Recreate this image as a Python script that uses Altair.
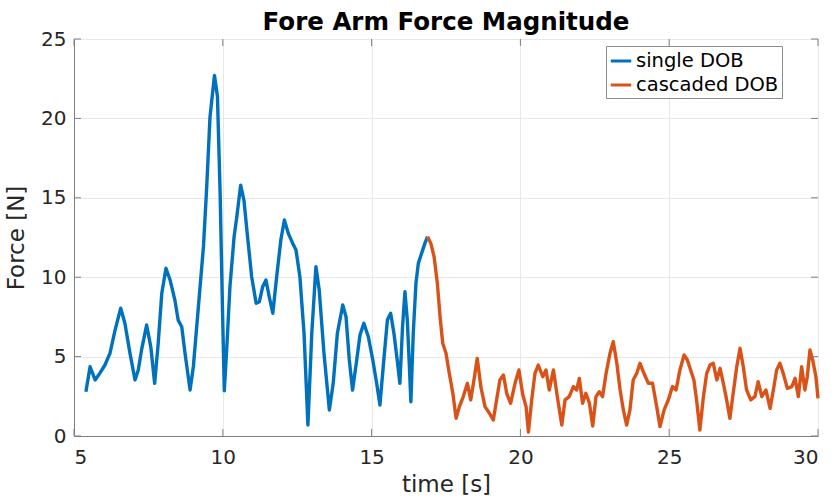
import altair as alt
import pandas as pd

# Force magnitude samples (time in s, force in N)
t_single = [5.40, 5.54, 5.71, 5.87, 6.04, 6.21, 6.38, 6.57, 6.71, 6.88,
            7.05, 7.16, 7.27, 7.44, 7.58, 7.71, 7.83, 7.95, 8.09, 8.23,
            8.39, 8.50, 8.62, 8.73, 8.90, 9.01, 9.18, 9.35, 9.46, 9.57,
            9.72, 9.82, 9.91, 9.99, 10.05, 10.13, 10.24, 10.38, 10.47, 10.60,
            10.71, 10.82, 10.97, 11.12, 11.23, 11.34, 11.45, 11.56, 11.68, 11.81,
            11.95, 12.07, 12.20, 12.35, 12.46, 12.59, 12.73, 12.86, 12.99, 13.13,
            13.24, 13.40, 13.58, 13.71, 13.85, 14.03, 14.14, 14.25, 14.36, 14.50,
            14.61, 14.74, 14.89, 15.04, 15.17, 15.28, 15.39, 15.53, 15.64, 15.75,
            15.86, 15.95, 16.04, 16.12, 16.20, 16.27, 16.32, 16.40, 16.49, 16.57,
            16.68, 16.79, 16.88]
f_single = [2.79, 4.36, 3.53, 3.96, 4.47, 5.22, 6.67, 8.05, 7.10, 5.22,
            3.53, 4.16, 5.42, 6.99, 5.62, 3.32, 5.85, 8.99, 10.56, 9.82,
            8.56, 7.30, 6.88, 5.22, 2.90, 4.36, 8.14, 11.92, 15.70, 20.10,
            22.70, 21.40, 15.30, 7.93, 2.85, 5.42, 9.40, 12.55, 13.80, 15.80,
            14.86, 12.76, 10.03, 8.36, 8.46, 9.40, 9.82, 8.77, 7.73, 10.03,
            12.34, 13.60, 12.76, 12.13, 11.71, 10.03, 6.47, 0.69, 6.47, 10.66,
            9.19, 5.21, 1.64, 3.32, 6.47, 8.25, 7.51, 4.79, 2.90, 4.79,
            6.36, 7.10, 6.25, 4.79, 3.32, 1.95, 4.36, 7.30, 7.73, 6.47,
            4.79, 3.32, 6.88, 9.09, 7.30, 4.36, 2.16, 6.47, 9.61, 10.87,
            11.50, 12.13, 12.55]

t_casc = [16.88, 16.99, 17.10, 17.21, 17.30, 17.39, 17.50, 17.61, 17.73, 17.84,
          17.95, 18.08, 18.22, 18.33, 18.44, 18.55, 18.67, 18.81, 18.96, 19.09,
          19.20, 19.31, 19.43, 19.54, 19.67, 19.82, 19.95, 20.08, 20.19, 20.27,
          20.38, 20.49, 20.60, 20.75, 20.86, 20.97, 21.11, 21.24, 21.39, 21.50,
          21.64, 21.78, 21.89, 21.98, 22.09, 22.20, 22.32, 22.43, 22.54, 22.65,
          22.76, 22.88, 23.01, 23.12, 23.24, 23.35, 23.46, 23.57, 23.68, 23.79,
          23.91, 24.02, 24.15, 24.30, 24.44, 24.58, 24.69, 24.83, 24.97, 25.11,
          25.23, 25.36, 25.50, 25.61, 25.72, 25.83, 25.92, 26.03, 26.15, 26.26,
          26.37, 26.48, 26.60, 26.71, 26.82, 26.93, 27.04, 27.15, 27.27, 27.38,
          27.49, 27.60, 27.74, 27.88, 27.99, 28.11, 28.25, 28.39, 28.50, 28.61,
          28.72, 28.83, 28.97, 29.12, 29.23, 29.34, 29.45, 29.56, 29.64, 29.73,
          29.82, 29.93, 30.00]
f_casc = [12.55, 12.13, 11.29, 9.61, 7.51, 5.84, 5.21, 3.95, 2.69, 1.11,
          1.85, 2.48, 3.32, 2.27, 3.53, 4.89, 3.11, 1.85, 1.43, 1.01,
          2.27, 3.53, 3.84, 2.69, 2.06, 3.32, 4.16, 2.60, 1.85, 0.25,
          2.27, 3.95, 4.47, 3.73, 4.16, 2.90, 4.16, 2.48, 0.69, 2.27,
          2.48, 3.11, 2.90, 3.63, 2.06, 2.69, 2.06, 0.63, 2.48, 2.79,
          2.48, 3.95, 5.21, 5.94, 4.58, 2.90, 1.64, 0.69, 1.64, 3.53,
          3.95, 4.58, 3.95, 3.32, 3.32, 1.85, 0.59, 1.64, 2.27, 3.11,
          2.90, 4.16, 5.10, 4.79, 4.16, 3.53, 2.27, 0.38, 2.48, 3.95,
          4.47, 4.58, 3.53, 4.26, 3.32, 2.27, 1.11, 2.69, 4.36, 5.52,
          4.36, 2.90, 2.27, 2.48, 3.42, 2.48, 2.90, 1.74, 2.90, 4.16,
          4.58, 3.95, 3.00, 3.11, 3.63, 2.48, 4.36, 2.90, 3.73, 5.42,
          4.79, 3.73, 2.37]

series_names = ["single DOB", "cascaded DOB"]
series_colors = ["#0072BD", "#D95319"]
x_ticks = [5, 10, 15, 20, 25, 30]
y_ticks = [0, 5, 10, 15, 20, 25]

W, H = 744, 397
FONT = "DejaVu Sans"
INK = "#262626"
FRAME = "#808080"

df = pd.concat([
    pd.DataFrame({"t": t_single, "f": f_single, "series": series_names[0]}),
    pd.DataFrame({"t": t_casc, "f": f_casc, "series": series_names[1]}),
], ignore_index=True)

x_scale = alt.Scale(domain=[5, 30], nice=False, zero=False)
y_scale = alt.Scale(domain=[0, 25], nice=False)

lines = alt.Chart(df).mark_line(strokeWidth=3.4, strokeJoin="round").encode(
    x=alt.X("t:Q", scale=x_scale, title="time [s]",
            axis=alt.Axis(values=x_ticks, format="d")),
    y=alt.Y("f:Q", scale=y_scale, title="Force [N]",
            axis=alt.Axis(values=y_ticks, format="d")),
    color=alt.Color("series:N",
                    scale=alt.Scale(domain=series_names, range=series_colors),
                    legend=alt.Legend(title=None, orient="none", legendX=532, legendY=7,
                                      fillColor="white", strokeColor="#8c8c8c",
                                      padding=3, rowPadding=2,
                                      symbolType="stroke", symbolSize=420,
                                      symbolStrokeWidth=3, symbolOffset=0,
                                      labelFontSize=19.5, labelFont=FONT,
                                      labelColor="#000000", labelOffset=3)),
    order="t:Q",
)

# Inward-facing tick marks on all four sides of the box
xt = pd.DataFrame({"v": x_ticks})
yt = pd.DataFrame({"v": y_ticks})
tick_style = dict(color=FRAME, strokeWidth=1)
xb = alt.Chart(xt).mark_rule(**tick_style).encode(
    x=alt.X("v:Q", scale=x_scale), y=alt.value(H), y2=alt.value(H - 7))
xtop = alt.Chart(xt).mark_rule(**tick_style).encode(
    x=alt.X("v:Q", scale=x_scale), y=alt.value(0), y2=alt.value(7))
yl = alt.Chart(yt).mark_rule(**tick_style).encode(
    y=alt.Y("v:Q", scale=y_scale), x=alt.value(0), x2=alt.value(7))
yr = alt.Chart(yt).mark_rule(**tick_style).encode(
    y=alt.Y("v:Q", scale=y_scale), x=alt.value(W), x2=alt.value(W - 7))

chart = alt.layer(lines, xb, xtop, yl, yr).properties(
    width=W, height=H,
    background="white",
    title=alt.TitleParams("Fore Arm Force Magnitude", font=FONT, fontSize=24.5,
                          fontWeight="bold", color="#000000", offset=3, dy=9,
                          anchor="middle"),
    autosize=alt.AutoSizeParams(type="none"),
    padding={"left": 74, "top": 39, "right": 17, "bottom": 65},
).configure_view(
    stroke=FRAME, strokeWidth=1
).configure_axis(
    grid=True, gridColor="#e8e8e8", gridWidth=1,
    domainColor=FRAME, domainWidth=1, ticks=False,
    labelFont=FONT, labelFontSize=20, labelColor=INK,
    titleFont=FONT, titleFontSize=23, titleColor=INK, titleFontWeight="normal",
).configure_axisX(
    labelPadding=11, titlePadding=6
).configure_axisY(
    labelPadding=8, titlePadding=12
)

chart.save("out.html", embed_options={"renderer": "svg", "actions": False})
